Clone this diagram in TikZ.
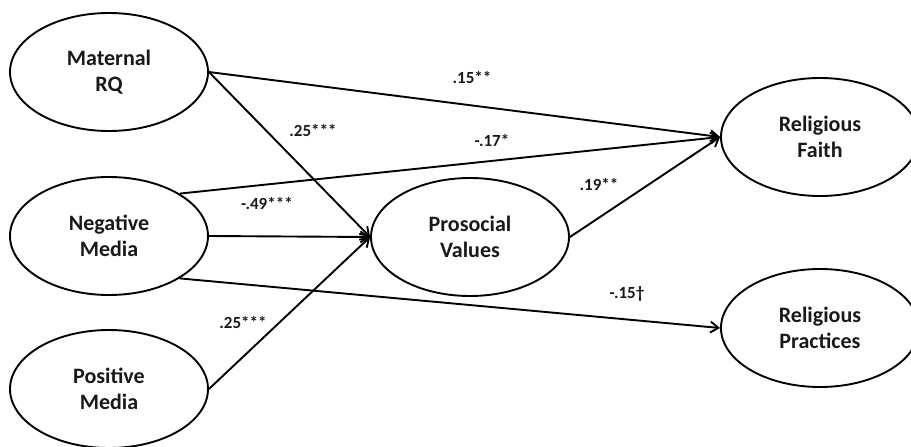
\documentclass[tikz,border=0pt]{standalone}
\usepackage{fontspec}
\setmainfont{Carlito}
\usetikzlibrary{shapes.geometric,arrows.meta}

\begin{document}
\begin{tikzpicture}[x=1pt,y=-1pt,
  every node/.style={align=center,text=black!90},
  latent/.style={ellipse,draw=black,line width=1.9pt,minimum width=198pt,
    minimum height=118pt,inner sep=0pt,font=\fontsize{22}{26}\selectfont\bfseries},
  coef/.style={inner sep=1pt,font=\fontsize{17}{20}\selectfont\bfseries},
  effect/.style={draw=black,line width=1.9pt,-{Straight Barb[length=8pt,width=11pt]}}]
\useasboundingbox (0,0) rectangle (911,447);
% latent variables
\node[latent] (mrq) at (109,72) {Maternal\\RQ};
\node[latent] (neg) at (109,236) {Negative\\Media};
\node[latent] (pos) at (109,389) {Positive\\Media};
\node[latent] (pro) at (470,237) {Prosocial\\Values};
\node[latent] (faith) at (820,137) {Religious\\Faith};
\node[latent] (prac) at (820,328) {Religious\\Practices};
% paths
\draw[effect] (mrq.east) -- (faith.west);
\draw[effect] (mrq.east) -- (pro.west);
\draw[effect] (neg.north east) -- (faith.west);
\draw[effect] (neg.east) -- (pro.west);
\draw[effect] (neg.south east) -- (prac.west);
\draw[effect] (pos.east) -- (pro.west);
\draw[effect] (pro.east) -- (faith.west);
% coefficients
\node[coef] (c1) at (472,77) {.15**};
\node[coef] (c2) at (313,130) {.25***};
\node[coef] (c3) at (492,140) {-.17*};
\node[coef] (c4) at (267,203) {-.49***};
\node[coef] (c5) at (599,184) {.19**};
\node[coef] (c6) at (243,322) {.25***};
\node[coef] (c7) at (627,294) {-.15\textdagger};
\end{tikzpicture}
\end{document}
